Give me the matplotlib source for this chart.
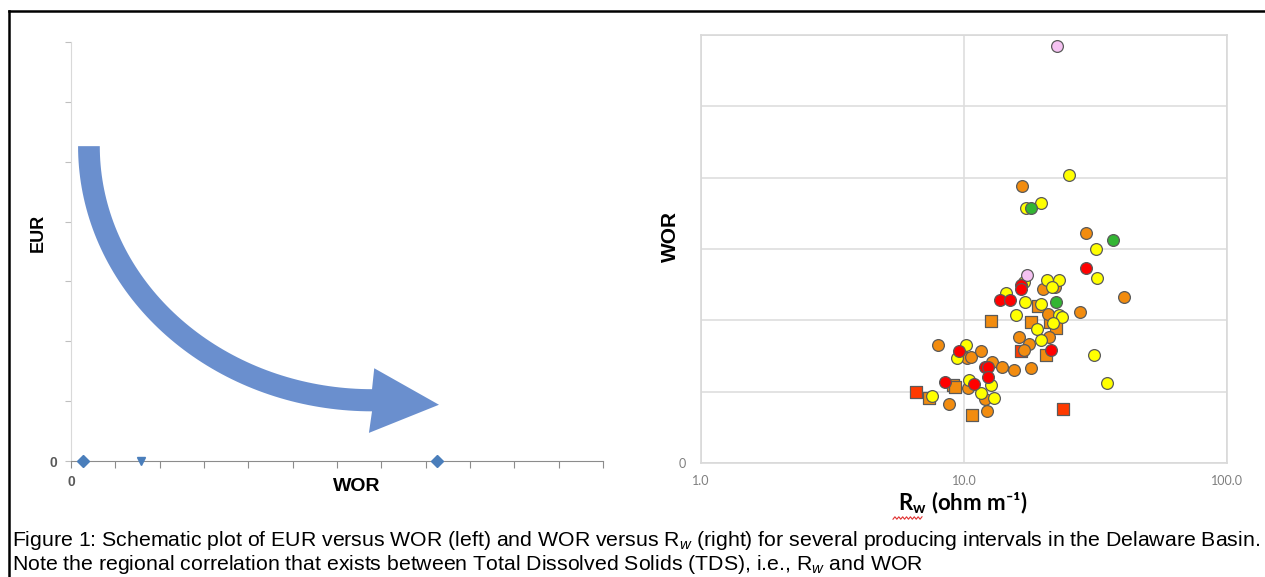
import numpy as np
import matplotlib.pyplot as plt
from matplotlib.patches import Polygon
from matplotlib.lines import Line2D
from matplotlib.ticker import NullLocator

plt.rcParams['font.family'] = ['Liberation Sans', 'DejaVu Sans']
plt.rcParams['mathtext.fontset'] = 'custom'
plt.rcParams['mathtext.rm'] = 'Liberation Sans'
plt.rcParams['mathtext.it'] = 'Liberation Sans:italic'
plt.rcParams['mathtext.bf'] = 'Lato:bold'

# left panel (schematic): the few points sitting on the WOR axis
schem_wor = [0.27, 1.58, 8.26]
schem_eur = [0, 0, 0]
schem_mark = ['D', 'v', 'D']

# right panel: WOR vs Rw, one list pair per marker colour
yellow_rw = [25.06, 17.18, 19.54, 31.76, 31.98, 16.89, 14.38, 17.00, 20.59, 23.04, 21.56,
             19.70, 22.87, 23.59, 15.77, 21.86, 19.02, 19.54, 31.32, 35.01, 10.14, 9.37,
             10.43, 12.63, 11.59, 12.99, 7.56]
yellow_wor = [4.04, 3.58, 3.65, 3.00, 2.60, 2.54, 2.38, 2.26, 2.56, 2.57, 2.46,
              2.23, 2.08, 2.04, 2.07, 1.96, 1.88, 1.72, 1.52, 1.12, 1.66, 1.47,
              1.16, 1.09, 0.98, 0.91, 0.94]
orange_rw = [16.54, 29.20, 40.59, 19.89, 22.18, 20.82, 27.51, 16.19, 20.96, 17.61, 16.94,
             7.97, 10.25, 10.61, 11.59, 12.72, 13.94, 15.43, 17.98, 10.32, 12.00, 12.24, 8.80]
orange_wor = [3.88, 3.22, 2.32, 2.44, 2.46, 2.09, 2.11, 1.77, 1.76, 1.67, 1.58,
              1.66, 1.47, 1.48, 1.57, 1.42, 1.35, 1.31, 1.33, 1.05, 0.89, 0.73, 0.83]
red_rw = [29.00, 16.42, 16.42, 13.74, 14.96, 21.33, 9.60, 12.04, 12.34, 12.29, 8.43, 10.91]
red_wor = [2.74, 2.50, 2.44, 2.29, 2.29, 1.58, 1.57, 1.34, 1.35, 1.21, 1.13, 1.11]
green_rw = [17.98, 36.77, 22.38]
green_wor = [3.57, 3.13, 2.26]
pink_rw = [22.64, 17.30]
pink_wor = [5.84, 2.64]
osq_rw = [19.09, 17.92, 21.18, 22.32, 20.45, 12.68, 9.07, 9.20, 7.34, 10.72]
osq_wor = [2.20, 1.97, 1.98, 1.89, 1.51, 1.99, 1.09, 1.07, 0.91, 0.67]
rsq_rw = [6.56, 16.42, 23.77]
rsq_wor = [0.99, 1.57, 0.75]

fig = plt.figure(figsize=(12.65, 5.77), dpi=100)

# ---------------- left panel ----------------
ax1 = fig.add_axes([0.0561, 0.2010, 0.4206, 0.7262])
ax1.set_xlim(0, 12)
ax1.set_ylim(0, 7)
ax1.set_xticks(range(13))
ax1.set_xticklabels(['0'] + [''] * 12)
ax1.set_yticks(range(8))
ax1.set_yticklabels(['0'] + [''] * 7)
for s in ['top', 'right']:
    ax1.spines[s].set_visible(False)
ax1.spines['left'].set_color('#D9D9D9')
ax1.spines['bottom'].set_color('#8C8C8C')
ax1.tick_params(axis='x', direction='out', length=5, color='#8C8C8C', pad=5,
                labelsize=10, labelcolor='#595959')
ax1.tick_params(axis='y', direction='out', length=4, color='#BFBFBF', pad=6,
                labelsize=10, labelcolor='#595959')
for lab in ax1.get_xticklabels() + ax1.get_yticklabels():
    lab.set_fontweight('bold')

for x, y, m in zip(schem_wor, schem_eur, schem_mark):
    ax1.plot(x, y, marker=m, color='#4A7EBB', markersize=6, clip_on=False, zorder=5)

# curved arrow (quarter ellipse shaft + triangular head)
cx, cy = 6.79, 5.26
t = np.linspace(np.pi, 1.5 * np.pi, 80)
outer = np.c_[cx + 6.63 * np.cos(t), cy + 4.43 * np.sin(t)]
inner = np.c_[cx + 6.14 * np.cos(t), cy + 4.06 * np.sin(t)][::-1]
head = np.array([[6.72, 0.47], [8.30, 0.94], [6.84, 1.55]])
arrow = Polygon(np.vstack([outer, head, inner]), closed=True,
                facecolor='#6A8FCE', edgecolor='none')
ax1.add_patch(arrow)

ax1.set_xlabel('WOR', fontsize=14, fontweight='bold')
ax1.xaxis.label.set_va('center')
ax1.xaxis.set_label_coords(0.538, -0.061)
ax1.set_ylabel('EUR', fontsize=13, fontweight='bold')
ax1.yaxis.label.set_va('center')
ax1.yaxis.set_label_coords(-0.062, 0.544)

# ---------------- right panel ----------------
ax2 = fig.add_axes([0.5542, 0.1976, 0.4158, 0.7418])
ax2.set_xscale('log')
ax2.set_xlim(1, 100)
ax2.set_ylim(0, 6)
ax2.set_xticks([1, 10, 100])
ax2.set_xticklabels(['1.0', '10.0', '100.0'])
ax2.xaxis.set_minor_locator(NullLocator())
ax2.set_yticks(range(7))
ax2.set_yticklabels(['0'] + [''] * 6)
ax2.tick_params(axis='x', length=0, labelsize=9, labelcolor='#7F7F7F', pad=9)
ax2.tick_params(axis='y', length=0, labelsize=9, labelcolor='#7F7F7F', pad=11)
for lab in ax2.get_xticklabels() + ax2.get_yticklabels():
    lab.set_family('Lato')
for s in ax2.spines.values():
    s.set_color('#D9D9D9')
    s.set_linewidth(1.2)
ax2.grid(True, color='#DEDEDE', linewidth=1.2)
ax2.set_axisbelow(True)

edge = '#5A5A5A'
ax2.scatter(osq_rw, osq_wor, marker='s', s=80, c='#F28C0F', edgecolors=edge, linewidths=0.9, zorder=3)
ax2.scatter(rsq_rw, rsq_wor, marker='s', s=80, c='#FF3A00', edgecolors=edge, linewidths=0.9, zorder=3)
ax2.scatter(orange_rw, orange_wor, marker='o', s=72, c='#F28C0F', edgecolors=edge, linewidths=0.9, zorder=4)
ax2.scatter(yellow_rw, yellow_wor, marker='o', s=72, c='#FFFF00', edgecolors=edge, linewidths=0.9, zorder=4)
ax2.scatter(red_rw, red_wor, marker='o', s=72, c='#FF0000', edgecolors=edge, linewidths=0.9, zorder=5)
ax2.scatter(green_rw, green_wor, marker='o', s=72, c='#33B533', edgecolors=edge, linewidths=0.9, zorder=5)
ax2.scatter(pink_rw, pink_wor, marker='o', s=72, c='#F5C2F2', edgecolors=edge, linewidths=0.9, zorder=5)

ax2.set_ylabel('WOR', fontsize=15, fontweight='bold')
ax2.yaxis.label.set_va('center')
ax2.yaxis.set_label_coords(-0.059, 0.528)
ax2.set_xlabel('R$_{\\mathbf{w}}$ (ohm m\u207b\u00b9)', fontsize=16, fontweight='bold',
               family=['Lato', 'DejaVu Sans'])
ax2.xaxis.label.set_va('center')
ax2.xaxis.set_label_coords(0.498, -0.093)

# spell-check squiggle under R_w
zx = np.linspace(893, 922, 16)
zy = 518 + np.where(np.arange(16) % 2 == 0, 1.2, -1.2)
fig.add_artist(Line2D(zx / 1265, 1 - zy / 577, color='#E03030', linewidth=0.8,
                      transform=fig.transFigure))

# outer frame (top and left edges)
fig.add_artist(Line2D([9 / 1265, 1.0], [1 - 11 / 577, 1 - 11 / 577], color='black',
                      linewidth=1.8, transform=fig.transFigure))
fig.add_artist(Line2D([9 / 1265, 9 / 1265], [0, 1 - 11 / 577], color='black',
                      linewidth=1.8, transform=fig.transFigure))

# caption
fig.text(12 / 1265, 1 - 541 / 577,
         'Figure 1: Schematic plot of EUR versus WOR (left) and WOR versus R$_{\\mathit{w}}$ '
         '(right) for several producing intervals in the Delaware Basin.',
         fontsize=15.3, va='center', ha='left')
fig.text(12 / 1265, 1 - 564 / 577,
         'Note the regional correlation that exists between Total Dissolved Solids (TDS), '
         'i.e., R$_{\\mathit{w}}$ and WOR',
         fontsize=15.3, va='center', ha='left')

fig.savefig('out.png', dpi=100)
